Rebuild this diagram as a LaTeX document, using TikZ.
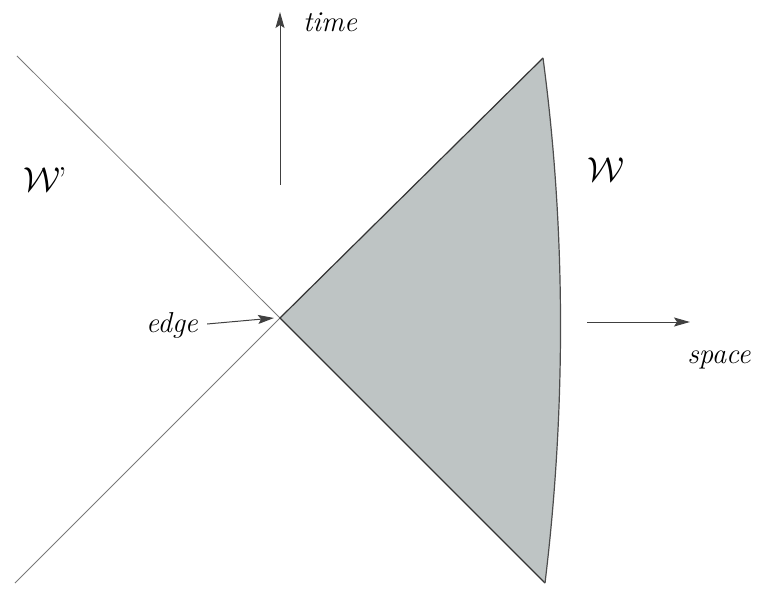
\documentclass[tikz,border=0pt]{standalone}
\usetikzlibrary{arrows.meta}
\definecolor{wedgegray}{RGB}{190,196,196}
\definecolor{linegray}{RGB}{120,120,120}
\begin{document}
\begin{tikzpicture}[x=.5pt,y=-.5pt,>={Stealth[length=8pt,width=4.5pt,inset=1.5pt]},line width=.5pt,font=\Large\itshape]
 \useasboundingbox (0,0) rectangle (759,588);
 \coordinate (edge) at (280,318);
 \coordinate (top) at (543,58);
 \coordinate (bot) at (545,583);
 \coordinate (ul) at (17,56);
 \coordinate (ll) at (15,583);
 \fill[wedgegray] (edge)--(top) .. controls (566,230) and (566,410) .. (bot)--cycle;
 \draw[linegray,line width=.4pt] (ul)--(edge)--(ll);
 \draw[black!80,line width=.6pt] (top)--(edge)--(bot);
 \draw[black!70,line width=.6pt] (top) .. controls (566,230) and (566,410) .. (bot);
 \coordinate (t0) at (280,185);
 \coordinate (t1) at (280,12);
 \draw[->,black!75] (t0)--(t1);
 \node (timelbl) at (330,22) {time};
 \coordinate (s0) at (587,322);
 \coordinate (s1) at (690,322);
 \draw[->,black!75] (s0)--(s1);
 \node (spacelbl) at (719,360) {space};
 \node (edgelbl) at (172,325) {edge};
 \draw[->,black!75] (edgelbl.east)++(2,-1) coordinate (e0) (e0)--([xshift=-3pt]edge);
 \node[font=\LARGE] (wprime) at (45,180) {$\mathcal{W}$\kern-1pt\textup{'}};
 \node[font=\LARGE] (w) at (606,170) {$\mathcal{W}$};
\end{tikzpicture}
\end{document}
